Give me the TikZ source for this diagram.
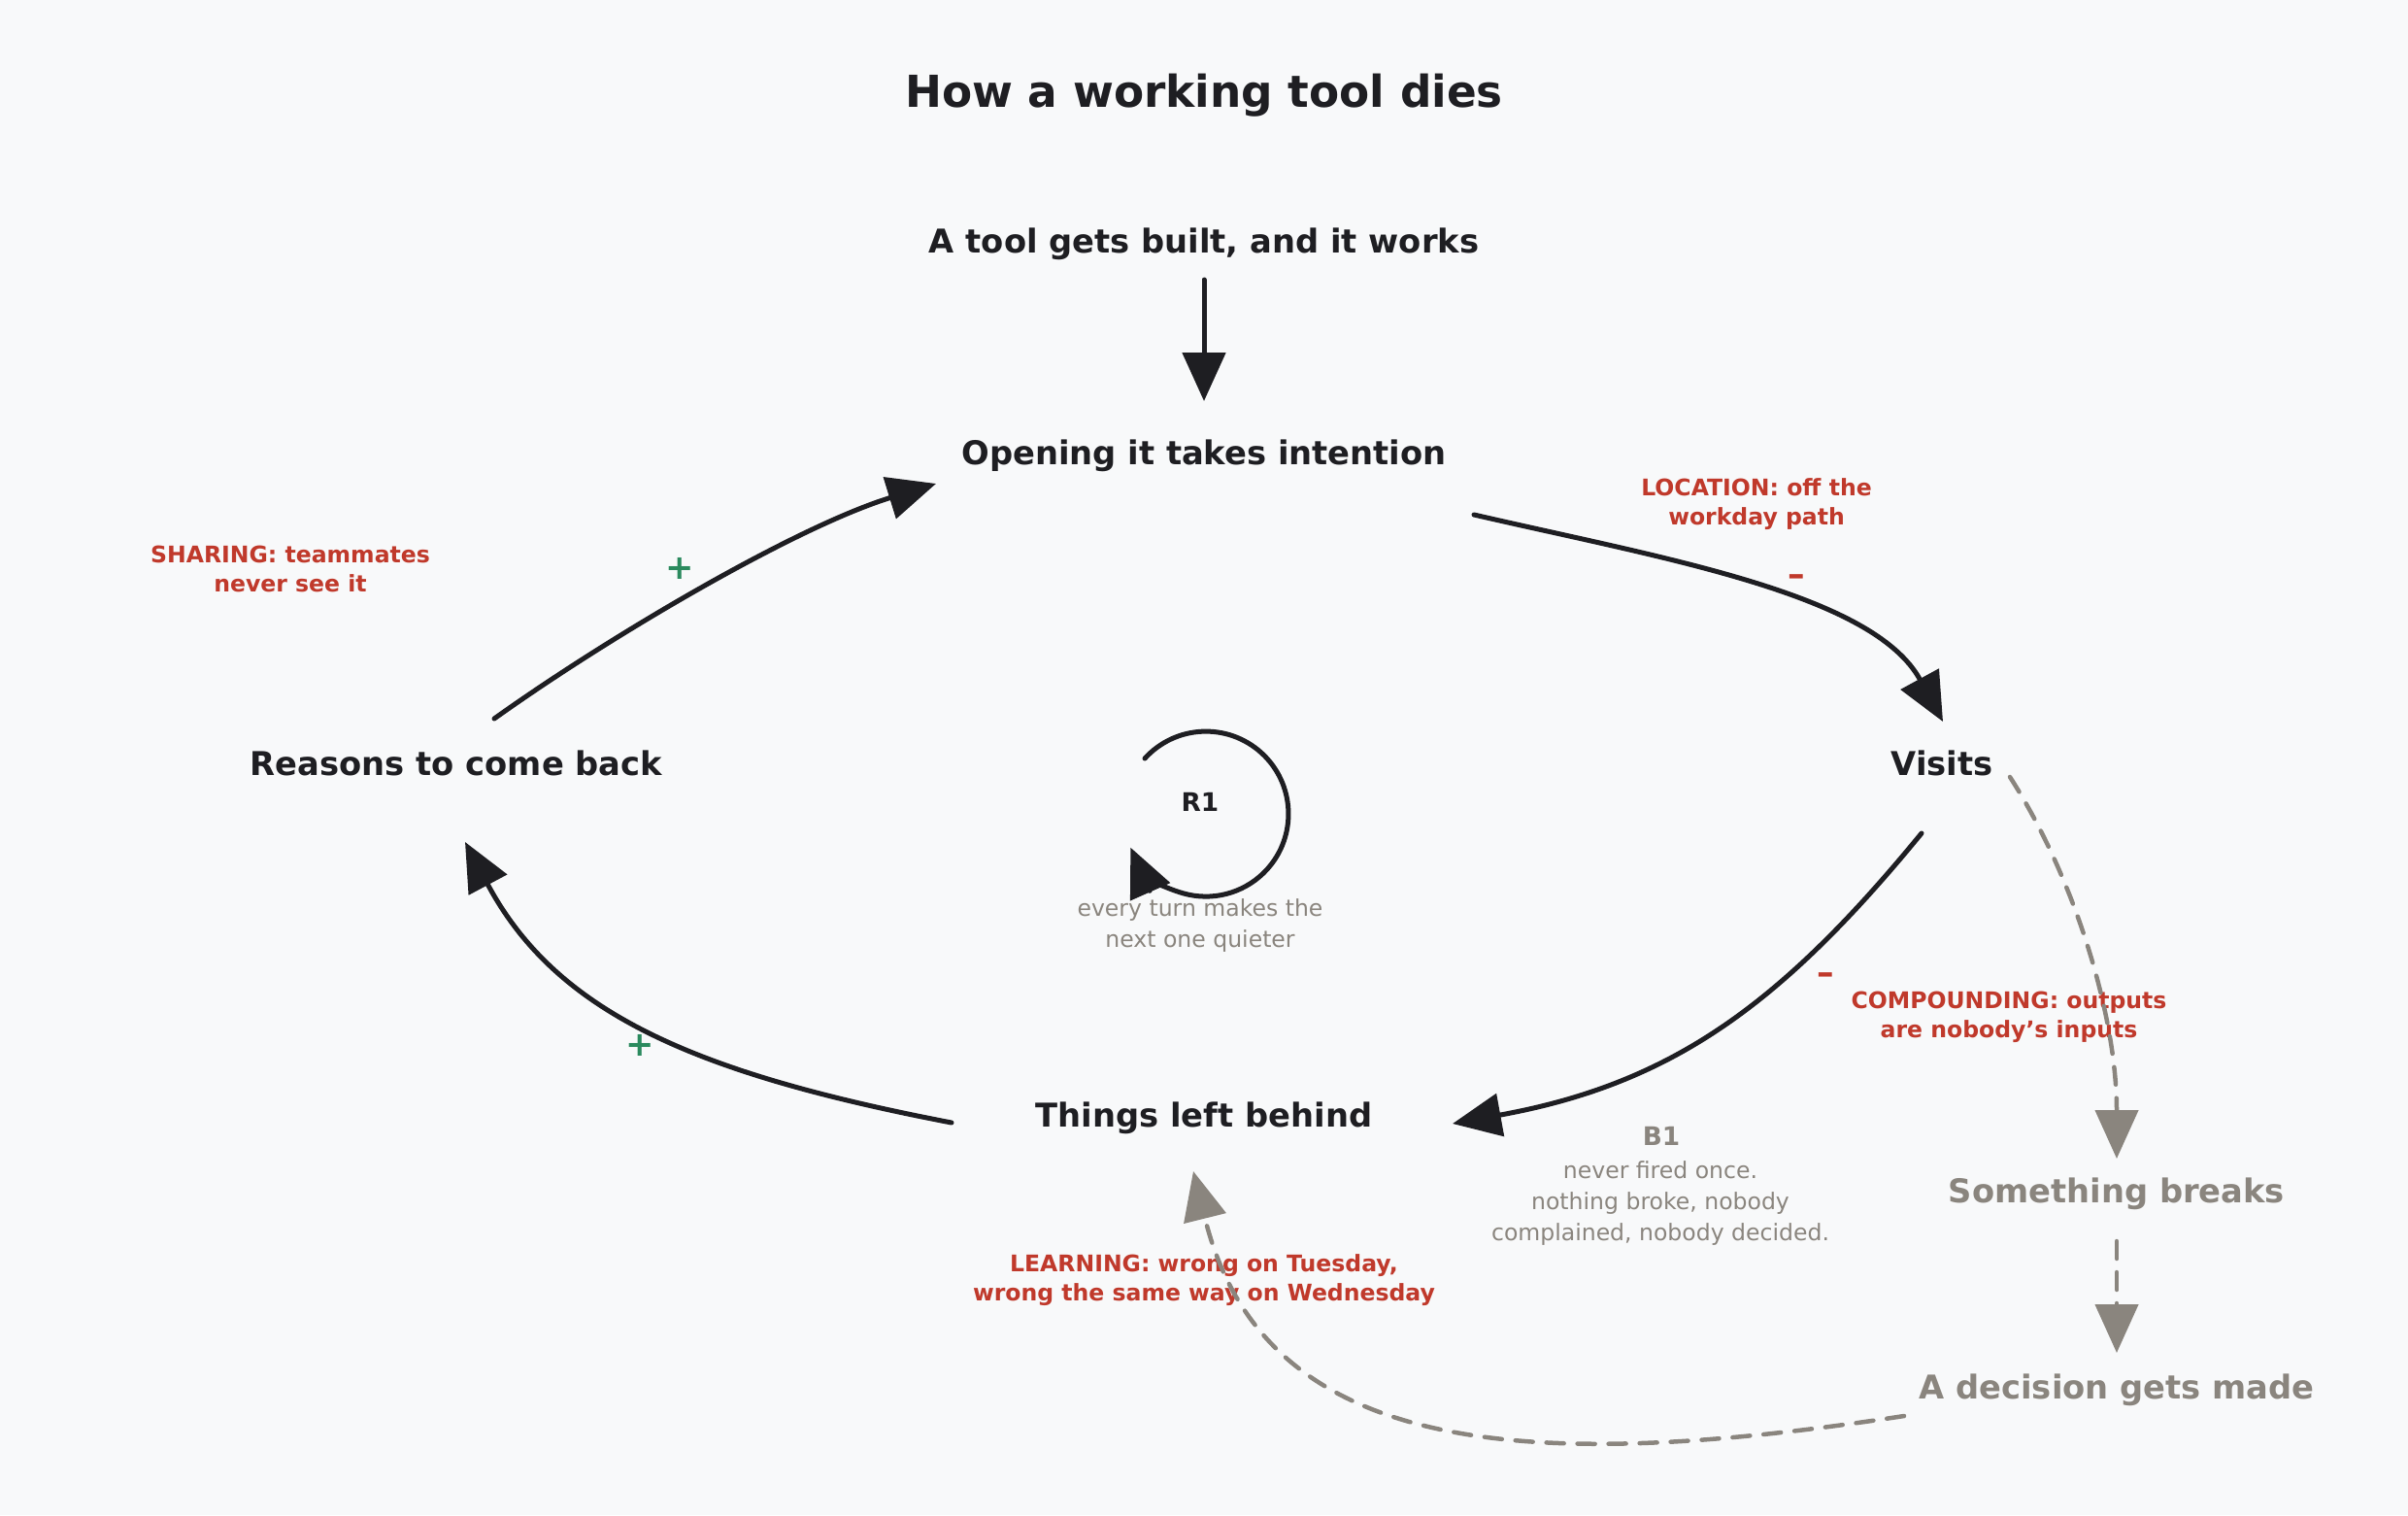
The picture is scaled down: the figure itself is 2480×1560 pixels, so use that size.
\documentclass[tikz,border=0pt]{standalone}
\usepackage{fontspec}
\setmainfont{DejaVu Sans}
\usetikzlibrary{arrows.meta,calc}
\definecolor{bg}{HTML}{F8F9FA}
\definecolor{ink}{HTML}{1E1E22}
\definecolor{redc}{HTML}{C0392B}
\definecolor{greenc}{HTML}{2B8A5E}
\definecolor{grayc}{HTML}{8A857E}
\begin{document}
\begin{tikzpicture}[x=0.1mm,y=-0.1mm,
  lbl/.style={font=\bfseries\fontsize{9.6}{11.5}\selectfont, text=ink, inner sep=0pt, anchor=base},
  glbl/.style={lbl, text=grayc},
  ttl/.style={lbl, font=\bfseries\fontsize{12.9}{15}\selectfont},
  redlbl/.style={font=\bfseries\fontsize{6.7}{8.5}\selectfont, text=redc, align=center, inner sep=0pt, anchor=base},
  note/.style={font=\fontsize{6.7}{9.1}\selectfont, text=grayc, align=center, inner sep=0pt, anchor=base},
  pol/.style={font=\bfseries\fontsize{10}{12}\selectfont, inner sep=0pt, anchor=center},
  arr/.style={draw=ink, line width=0.5mm, line cap=round, -{Triangle[length=5mm,width=4.4mm]}},
  garr/.style={draw=grayc, line width=0.45mm, line cap=round, dash pattern=on 1.8mm off 1.4mm, -{Triangle[length=5mm,width=4.4mm]}},
]
\fill[bg] (0,0) rectangle (2480,1560);
\useasboundingbox (0,0) rectangle (2480,1560);

\node[ttl] (title) at (1240,110) {How a working tool dies};
\node[lbl] (tool) at (1240,260) {A tool gets built, and it works};
\node[lbl] (opening) at (1240,478) {Opening it takes intention};
\node[lbl] (visits) at (2000,798) {Visits};
\node[lbl] (things) at (1240,1160) {Things left behind};
\node[lbl] (reasons) at (470,798) {Reasons to come back};
\node[glbl] (breaks) at (2180,1238) {Something breaks};
\node[glbl] (decision) at (2180,1440) {A decision gets made};

\node[lbl, font=\bfseries\fontsize{7.5}{9}\selectfont] (r1) at (1236,835) {R1};
\coordinate (r1c) at (1242,838);
\node[note] (r1note) at (1236,975) {every turn makes the\\next one quieter};
\node[glbl, font=\bfseries\fontsize{7.5}{9}\selectfont] (b1) at (1711,1179) {B1};
\node[note] (b1note) at (1710,1277) {never fired once.\\nothing broke, nobody\\complained, nobody decided.};

\node[redlbl] (sharing) at (299,609) {SHARING: teammates\\never see it};
\node[redlbl] (location) at (1809,540) {LOCATION: off the\\workday path};
\node[redlbl] (compounding) at (2069,1068) {COMPOUNDING: outputs\\are nobody's inputs};
\node[redlbl] (learning) at (1240,1339) {LEARNING: wrong on Tuesday,\\wrong the same way on Wednesday};

\node[pol, text=greenc] (p1) at (700,585) {+};
\node[pol, text=greenc] (p2) at (659,1076) {+};
\node[pol, text=redc] (m1) at (1850,598) {–};
\node[pol, text=redc] (m2) at (1880,1008) {–};

\draw[arr] ($(tool.base)+(0,28)$) -- ($(opening.base)+(0,-65)$);
\draw[arr] ($(reasons.base)+(39,-58)$) .. controls (631,653) and (821,542) .. ($(opening.base)+(-276,20)$);
\draw[arr] ($(opening.base)+(278,52)$) .. controls (1713,575) and (1929,611) .. ($(visits.base)+(1,-55)$);
\draw[arr] ($(visits.base)+(-21,60)$) .. controls (1833,1036) and (1721,1116) .. ($(things.base)+(256,-3)$);
\draw[arr] ($(things.base)+(-260,-4)$) .. controls (715,1105) and (573,1043) .. ($(reasons.base)+(9,69)$);
\draw[garr] ($(visits.base)+(70,2)$) .. controls (2135,901) and (2180,1043) .. ($(breaks.base)+(0,-45)$);
\draw[garr] ($(breaks.base)+(0,40)$) -- ($(decision.base)+(0,-47)$);
\draw[garr] ($(decision.base)+(-219,18)$) .. controls (1564,1519) and (1301,1497) .. ($(things.base)+(-11,46)$);
\draw[arr] ($(r1c)+(-63,-57)$) arc[start angle=-137.8, end angle=156, radius=85];
\end{tikzpicture}
\end{document}
